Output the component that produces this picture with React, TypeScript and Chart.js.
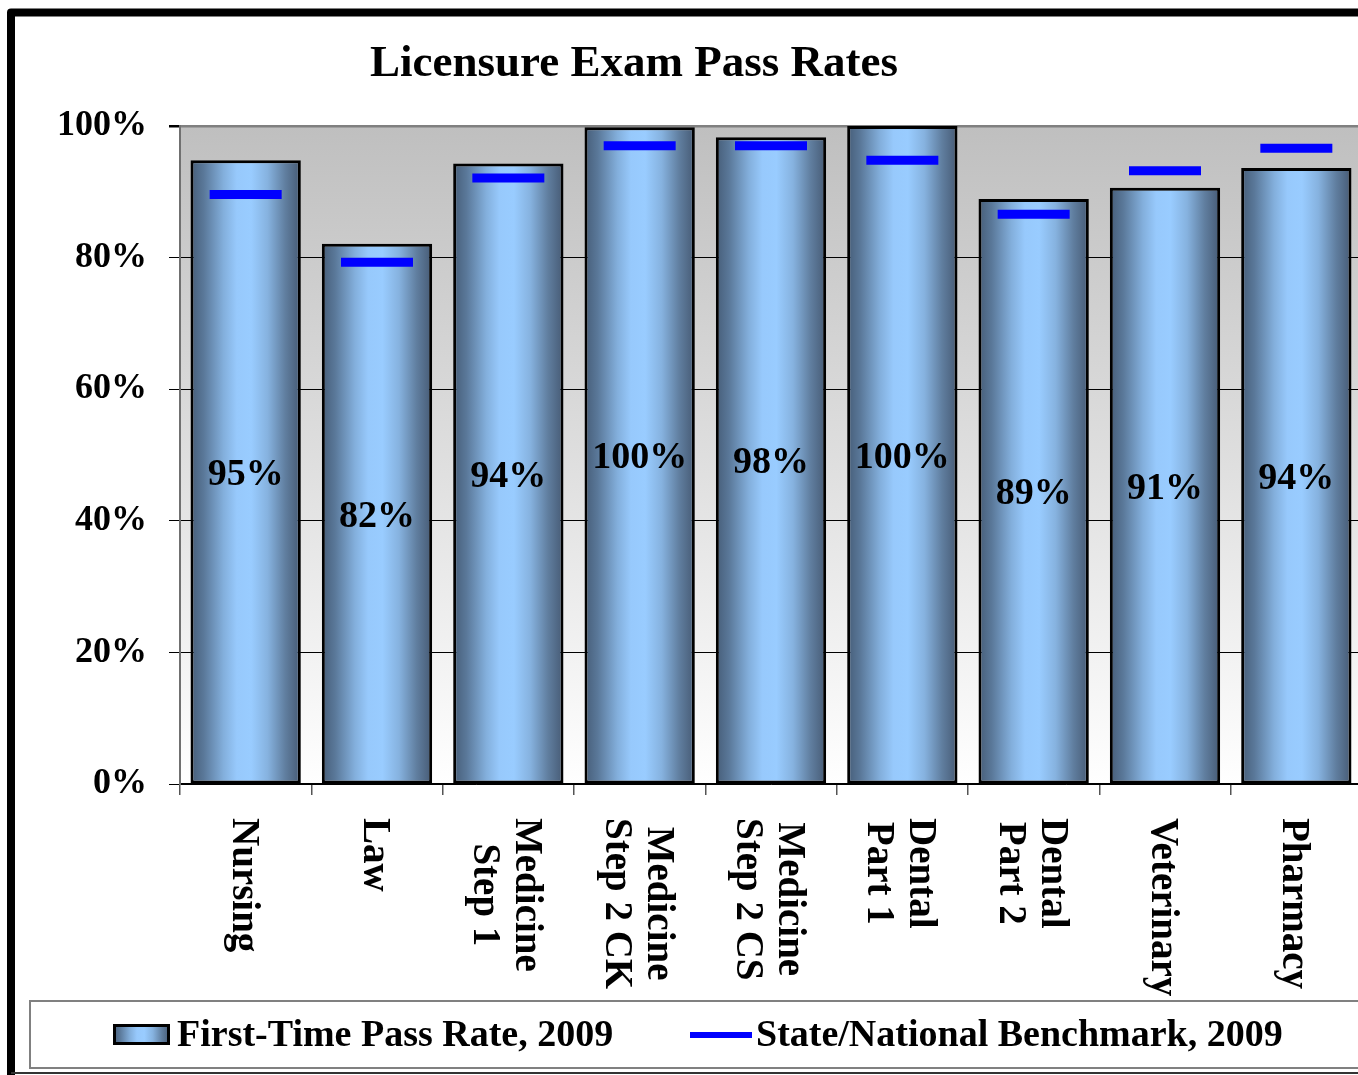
import React, { useEffect, useRef } from 'react';
import { Chart, registerables } from 'chart.js';

Chart.register(...registerables);

// ---- data ----
const categories: string[][] = [
  ['Nursing'],
  ['Law'],
  ['Medicine', 'Step 1'],
  ['Medicine', 'Step 2 CK'],
  ['Medicine', 'Step 2 CS'],
  ['Dental', 'Part 1'],
  ['Dental', 'Part 2'],
  ['Veterinary'],
  ['Pharmacy'],
];
const passRates = [94.8, 82.1, 94.3, 99.8, 98.3, 100, 88.9, 90.6, 93.6];
const benchmarks = [89.6, 79.3, 92.1, 97.0, 97.0, 94.8, 86.6, 93.2, 96.6];
const yTickValues = [0, 20, 40, 60, 80, 100];
const chartTitle = 'Licensure Exam Pass Rates';
const seriesNames = ['First-Time Pass Rate, 2009', 'State/National Benchmark, 2009'];

// ---- styling ----
const FONT = "'Liberation Serif', 'Times New Roman', serif";
const BAR_PCT = 0.84;
const CANVAS_W = 1372;
const CANVAS_H = 1075;

function addBarStops(g: CanvasGradient) {
  g.addColorStop(0, '#465d78');
  g.addColorStop(0.12, '#5a7899');
  g.addColorStop(0.3, '#83afdc');
  g.addColorStop(0.42, '#97c9fc');
  g.addColorStop(0.55, '#99ccff');
  g.addColorStop(0.7, '#86b2df');
  g.addColorStop(0.86, '#607e9f');
  g.addColorStop(1, '#465a74');
}

function barGradient(ctx: any) {
  const chart = ctx.chart;
  const xs = chart.scales?.x;
  if (!xs || ctx.dataIndex == null || !chart.chartArea) return '#8fb8e6';
  const cx = xs.getPixelForValue(ctx.dataIndex);
  const half = ((xs.width / categories.length) * BAR_PCT) / 2;
  const g = chart.ctx.createLinearGradient(cx - half, 0, cx + half, 0);
  addBarStops(g);
  return g;
}

const decorPlugin = {
  id: 'decor',
  beforeDraw(chart: any) {
    const { ctx, chartArea } = chart;
    ctx.save();
    ctx.fillStyle = '#ffffff';
    ctx.fillRect(0, 0, chart.width, chart.height);
    const g = ctx.createLinearGradient(0, chartArea.top, 0, chartArea.bottom);
    g.addColorStop(0, '#bfbfbf');
    g.addColorStop(0.5, '#dedede');
    g.addColorStop(1, '#ffffff');
    ctx.fillStyle = g;
    ctx.fillRect(chartArea.left, chartArea.top, chartArea.right - chartArea.left, chartArea.bottom - chartArea.top);
    ctx.restore();
  },
  afterDatasetsDraw(chart: any) {
    const { ctx } = chart;
    const meta = chart.getDatasetMeta(0);
    ctx.save();
    ctx.font = `bold 38px ${FONT}`;
    ctx.fillStyle = '#000';
    ctx.textAlign = 'center';
    ctx.textBaseline = 'alphabetic';
    meta.data.forEach((bar: any, i: number) => {
      const y = (bar.y + bar.base) / 2;
      ctx.fillText(`${Math.round(passRates[i])}%`, bar.x, y + 13);
    });
    ctx.restore();
  },
  afterDraw(chart: any) {
    const { ctx } = chart;
    const xs = chart.scales.x;
    ctx.save();
    // title
    ctx.fillStyle = '#000';
    ctx.font = `bold 45px ${FONT}`;
    ctx.textAlign = 'center';
    ctx.textBaseline = 'alphabetic';
    ctx.fillText(chartTitle, 634, 76);

    // rotated category labels
    ctx.font = `bold 39px ${FONT}`;
    const lh = 42;
    categories.forEach((lines, i) => {
      const x = xs.getPixelForTick(i);
      const L = Math.max(...lines.map((l) => ctx.measureText(l).width));
      ctx.save();
      ctx.translate(x, 818);
      ctx.rotate(Math.PI / 2);
      ctx.textAlign = 'center';
      ctx.textBaseline = 'alphabetic';
      lines.forEach((line, j) => {
        const off = (j - (lines.length - 1) / 2) * lh;
        ctx.fillText(line, L / 2, off + 13);
      });
      ctx.restore();
    });

    // legend box
    ctx.strokeStyle = '#808080';
    ctx.lineWidth = 2;
    ctx.strokeRect(30, 1001, 1400, 67);
    // item 1 swatch
    const g = ctx.createLinearGradient(113, 0, 170, 0);
    addBarStops(g);
    ctx.fillStyle = g;
    ctx.fillRect(113, 1024, 57, 21);
    ctx.strokeStyle = '#000';
    ctx.lineWidth = 3;
    ctx.strokeRect(114.5, 1025.5, 54, 18);
    // item 2 swatch
    ctx.strokeStyle = '#0000ff';
    ctx.lineWidth = 6;
    ctx.beginPath();
    ctx.moveTo(690, 1035);
    ctx.lineTo(752, 1035);
    ctx.stroke();
    // legend text
    ctx.fillStyle = '#000';
    ctx.font = `bold 38px ${FONT}`;
    ctx.textAlign = 'left';
    ctx.textBaseline = 'alphabetic';
    ctx.fillText(chart.data.datasets[0].label, 177, 1046);
    ctx.fillText(chart.data.datasets[1].label, 756, 1046);

    // outer frame
    ctx.strokeStyle = '#000';
    ctx.lineWidth = 8;
    ctx.lineJoin = 'round';
    ctx.beginPath();
    ctx.moveTo(11, 1080);
    ctx.lineTo(11, 12.5);
    ctx.lineTo(1400, 12.5);
    ctx.stroke();
    ctx.lineWidth = 2;
    ctx.strokeStyle = '#333';
    ctx.beginPath();
    ctx.moveTo(11, 1073);
    ctx.lineTo(1400, 1073);
    ctx.stroke();
    ctx.restore();
  },
};

export default function App() {
  const ref = useRef<HTMLCanvasElement | null>(null);
  useEffect(() => {
    if (!ref.current) return;
    const chart = new Chart(ref.current, {
      type: 'bar',
      data: {
        labels: categories.map((c) => c.join(' ')),
        datasets: [
          {
            type: 'bar',
            label: seriesNames[0],
            data: passRates,
            backgroundColor: barGradient as any,
            borderColor: '#000',
            borderWidth: 3,
            borderSkipped: false,
            categoryPercentage: 1,
            barPercentage: BAR_PCT,
            order: 2,
          },
          {
            type: 'line',
            label: seriesNames[1],
            data: benchmarks,
            showLine: false,
            pointStyle: 'line',
            pointRadius: 36,
            pointHoverRadius: 36,
            pointBorderWidth: 9,
            pointBorderColor: '#0000ff',
            pointBackgroundColor: '#0000ff',
            borderColor: '#0000ff',
            clip: false,
            order: 1,
          } as any,
        ],
      },
      options: {
        responsive: false,
        maintainAspectRatio: false,
        animation: false,
        events: [],
        layout: { autoPadding: false, padding: { left: 20, top: 126, right: 10, bottom: 291 } },
        plugins: {
          legend: { display: false },
          tooltip: { enabled: false },
          title: { display: false },
        },
        scales: {
          x: {
            offset: true,
            afterFit: (s: any) => {
              s.height = 0;
            },
            ticks: { display: false },
            grid: {
              drawOnChartArea: false,
              drawTicks: true,
              tickLength: 11,
              color: '#555',
              tickColor: '#555',
              lineWidth: 1.5,
            },
            border: { display: true, color: '#000', width: 1.5 },
          },
          y: {
            min: 0,
            max: 100,
            afterFit: (s: any) => {
              s.width = 160;
            },
            afterBuildTicks: (s: any) => {
              s.ticks = yTickValues.map((v) => ({ value: v }));
            },
            ticks: {
              padding: 22,
              color: '#000',
              font: { family: FONT, size: 36, weight: 'bold' },
              callback: (v: any) => `${v}%`,
            },
            grid: {
              color: (c: any) => (c.tick && c.tick.value === 100 ? '#808080' : '#000'),
              lineWidth: (c: any) => (c.tick && c.tick.value === 100 ? 2.5 : 1),
              tickColor: '#000',
              tickLength: 11,
            },
            border: { display: true, color: '#707070', width: 2 },
          },
        },
      },
      plugins: [decorPlugin],
    });
    return () => chart.destroy();
  }, []);
  return (
    <div
      style={{
        position: 'fixed',
        left: 0,
        top: 0,
        width: 1358,
        height: 1075,
        overflow: 'hidden',
        background: '#fff',
      }}
    >
      <canvas
        ref={ref}
        width={CANVAS_W}
        height={CANVAS_H}
        style={{ width: CANVAS_W, height: CANVAS_H, display: 'block' }}
      />
    </div>
  );
}
